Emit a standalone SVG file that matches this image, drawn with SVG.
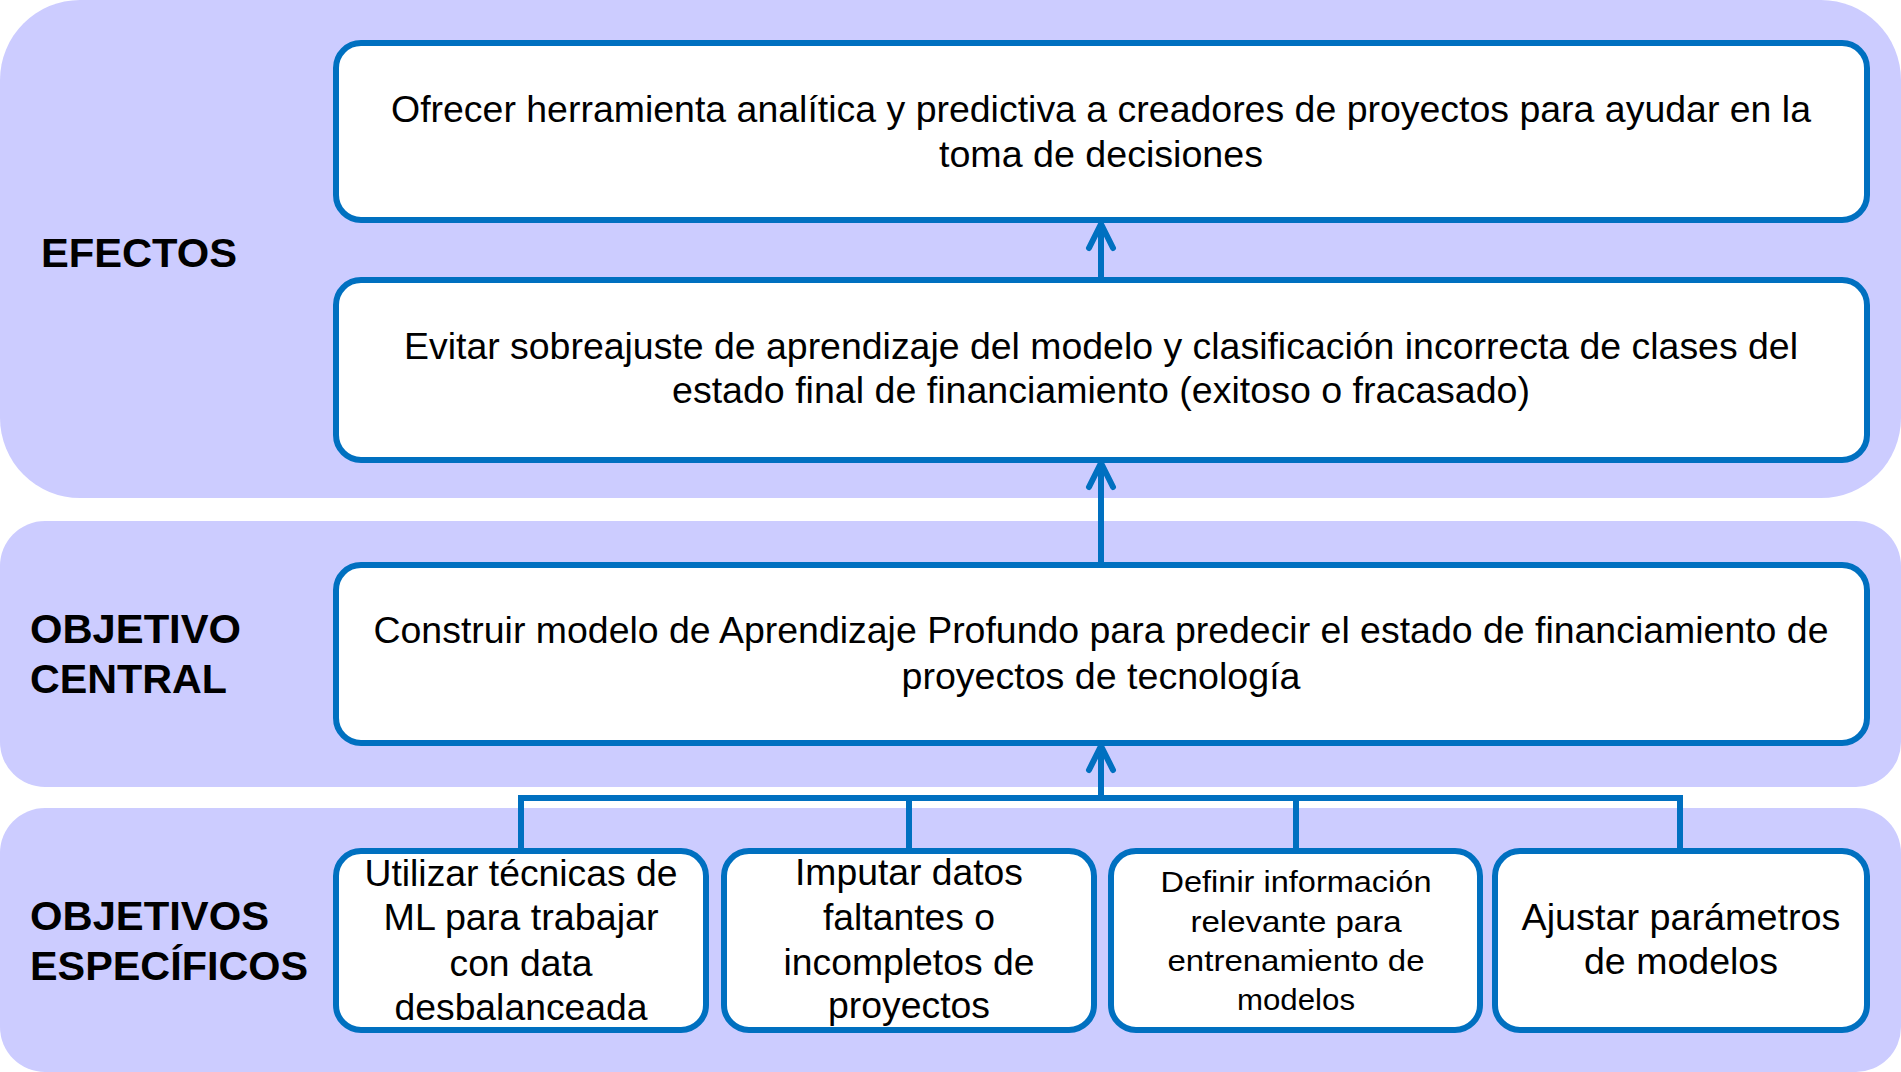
<svg xmlns="http://www.w3.org/2000/svg" width="1901" height="1072" viewBox="0 0 1901 1072">
<style>
.band{fill:#CCCCFF;}
.box{fill:#FFFFFF;stroke:#0070C0;stroke-width:6;}
.t{font-family:"Liberation Sans",Arial,sans-serif;font-size:36px;fill:#000;text-anchor:middle;}
.ts{font-family:"Liberation Sans",Arial,sans-serif;font-size:30px;fill:#000;text-anchor:middle;}
.lbl{font-family:"Liberation Sans",Arial,sans-serif;font-size:41px;font-weight:bold;fill:#000;}
.conn{fill:none;stroke:#0070C0;stroke-width:6;}
</style>
<defs>
<marker id="arr" markerUnits="userSpaceOnUse" orient="auto" viewBox="-30 -16 36 32" refX="0" refY="0" markerWidth="36" markerHeight="32">
<path d="M-24,-12 L0,0 L-24,12" fill="none" stroke="#0070C0" stroke-width="6" stroke-linecap="round" stroke-linejoin="round"/>
</marker>
</defs>

<g id="bands">
<rect class="band" x="0" y="0" width="1901" height="498" rx="80" ry="80"/>
<rect class="band" x="0" y="521" width="1901" height="266" rx="45" ry="45"/>
<rect class="band" x="0" y="808" width="1901" height="264" rx="45" ry="45"/>
</g>

<g id="label-efectos"><text class="lbl" x="41" y="267" textLength="196" lengthAdjust="spacingAndGlyphs">EFECTOS</text></g>
<g id="label-central">
<text class="lbl" x="30" y="643" textLength="211" lengthAdjust="spacingAndGlyphs">OBJETIVO</text>
<text class="lbl" x="30" y="693" textLength="197" lengthAdjust="spacingAndGlyphs">CENTRAL</text>
</g>
<g id="label-especificos">
<text class="lbl" x="30" y="930" textLength="239" lengthAdjust="spacingAndGlyphs">OBJETIVOS</text>
<text class="lbl" x="30" y="980" textLength="278" lengthAdjust="spacingAndGlyphs">ESPECÍFICOS</text>
</g>

<g id="connectors">
<path class="conn" d="M521,848 V798 H1680 V848"/>
<path class="conn" d="M909,798 V848"/>
<path class="conn" d="M1296,798 V848"/>
<path class="conn" d="M1101,798 V746" marker-end="url(#arr)"/>
<path class="conn" d="M1101,562 V463" marker-end="url(#arr)"/>
<path class="conn" d="M1101,277 V224" marker-end="url(#arr)"/>
</g>

<g id="efecto-1">
<rect class="box" x="336" y="43" width="1531" height="177" rx="25" ry="25"/>
<text class="t" x="1101" y="122" textLength="1420" lengthAdjust="spacingAndGlyphs">Ofrecer herramienta analítica y predictiva a creadores de proyectos para ayudar en la</text>
<text class="t" x="1101" y="167" textLength="324" lengthAdjust="spacingAndGlyphs">toma de decisiones</text>
</g>

<g id="efecto-2">
<rect class="box" x="336" y="280" width="1531" height="180" rx="25" ry="25"/>
<text class="t" x="1101" y="359" textLength="1394" lengthAdjust="spacingAndGlyphs">Evitar sobreajuste de aprendizaje del modelo y clasificación incorrecta de clases del</text>
<text class="t" x="1101" y="403" textLength="858" lengthAdjust="spacingAndGlyphs">estado final de financiamiento (exitoso o fracasado)</text>
</g>

<g id="objetivo-central">
<rect class="box" x="336" y="565" width="1531" height="178" rx="25" ry="25"/>
<text class="t" x="1101" y="643" textLength="1455" lengthAdjust="spacingAndGlyphs">Construir modelo de Aprendizaje Profundo para predecir el estado de financiamiento de</text>
<text class="t" x="1101" y="689" textLength="399" lengthAdjust="spacingAndGlyphs">proyectos de tecnología</text>
</g>

<g id="especifico-1">
<rect class="box" x="336" y="851" width="370" height="179" rx="25" ry="25"/>
<text class="t" x="521" y="886" textLength="313" lengthAdjust="spacingAndGlyphs">Utilizar técnicas de</text>
<text class="t" x="521" y="930" textLength="275" lengthAdjust="spacingAndGlyphs">ML para trabajar</text>
<text class="t" x="521" y="976" textLength="143" lengthAdjust="spacingAndGlyphs">con data</text>
<text class="t" x="521" y="1020" textLength="253" lengthAdjust="spacingAndGlyphs">desbalanceada</text>
</g>

<g id="especifico-2">
<rect class="box" x="724" y="851" width="370" height="179" rx="25" ry="25"/>
<text class="t" x="909" y="885" textLength="228" lengthAdjust="spacingAndGlyphs">Imputar datos</text>
<text class="t" x="909" y="930" textLength="172" lengthAdjust="spacingAndGlyphs">faltantes o</text>
<text class="t" x="909" y="975" textLength="251" lengthAdjust="spacingAndGlyphs">incompletos de</text>
<text class="t" x="909" y="1018" textLength="162" lengthAdjust="spacingAndGlyphs">proyectos</text>
</g>

<g id="especifico-3">
<rect class="box" x="1111" y="851" width="369" height="179" rx="25" ry="25"/>
<text class="ts" x="1296" y="892" textLength="271" lengthAdjust="spacingAndGlyphs">Definir información</text>
<text class="ts" x="1296" y="932" textLength="211" lengthAdjust="spacingAndGlyphs">relevante para</text>
<text class="ts" x="1296" y="971" textLength="257" lengthAdjust="spacingAndGlyphs">entrenamiento de</text>
<text class="ts" x="1296" y="1010" textLength="118" lengthAdjust="spacingAndGlyphs">modelos</text>
</g>

<g id="especifico-4">
<rect class="box" x="1495" y="851" width="372" height="179" rx="25" ry="25"/>
<text class="t" x="1681" y="930" textLength="319" lengthAdjust="spacingAndGlyphs">Ajustar parámetros</text>
<text class="t" x="1681" y="974" textLength="194" lengthAdjust="spacingAndGlyphs">de modelos</text>
</g>
</svg>
